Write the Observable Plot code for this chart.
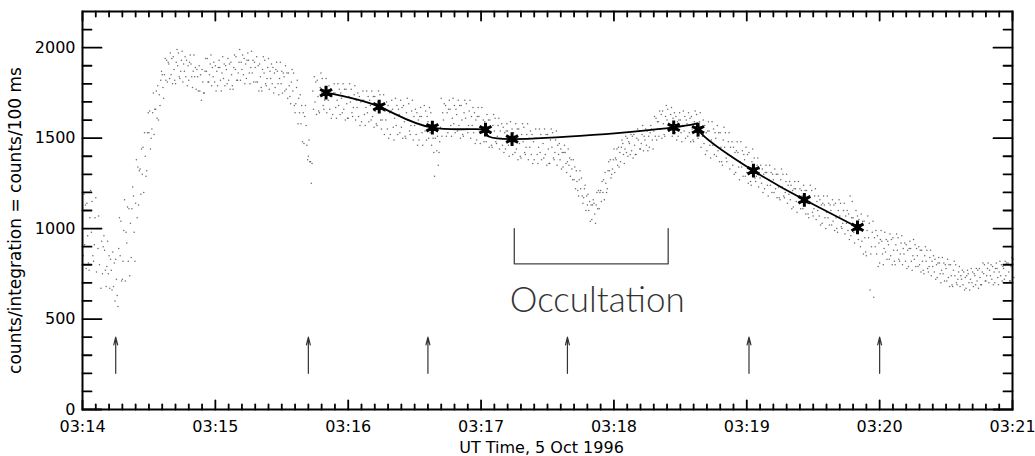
<!DOCTYPE html>
<html><head><meta charset="utf-8">
<script src="https://cdn.jsdelivr.net/npm/d3@7"></script>
<script src="https://cdn.jsdelivr.net/npm/@observablehq/plot@0.6"></script>
<style>body{margin:0;background:#fff}</style>
</head><body><div id="chart"></div>
<script>
// Count samples, three readings per second, seconds after 03:14:00 (one array per minute)
const counts0314 = [[1040,850,1190],[910,1130,780],[1140,960,810],[770,1060,1210],[980,1150,850],[820,910,1060],[1170,760,1000],[890,1070,800],[1000,670,930],[750,900,960],
[880,770,680],[790,930,750],[850,670,830],[770,660,870],[680,810,600],[830,720,630],[570,890,1060],[850,1040,710],[720,820,990],[1160,710,980],
[920,1120,820],[1110,740,1030],[840,1110,1230],[1180,980,820],[1140,1380,1060],[1340,1130,1320],[1330,1190,1440],[1300,1450,1200],[1530,1400,1290],[1320,1530,1640],
[1530,1650,1440],[1500,1550,1640],[1750,1520,1660],[1660,1760,1610],[1790,1600,1740],[1680,1820,1870],[1850,1780,1720],[1850,1940,1820],[1930,1810,1920],[1910,1830,1970],
[1850,1940,1800],[1950,1880,1820],[1800,1920,1990],[1900,1970,1840],[1830,1870,1930],[1980,1810,1910],[1870,1950,1840],[1930,1790,1900],[1820,1920,1960],[1910,1840,1780],
[1870,1960,1840],[1890,1770,1880],[1840,1760,1900],[1760,1850,1710],[1880,1810,1750],[1750,1870,1940],[1870,1940,1810],[1810,1850,1910],[1960,1790,1890],[1840,1920,1810]];
const counts0315 = [[1900,1760,1870],[1790,1890,1930],[1890,1820,1760],[1860,1950,1830],[1910,1790,1900],[1880,1800,1940],[1820,1910,1770],[1920,1850,1790],[1770,1890,1960],[1880,1950,1820],
[1820,1860,1920],[1990,1820,1920],[1880,1960,1850],[1940,1800,1910],[1830,1930,1970],[1930,1860,1800],[1890,1980,1860],[1930,1810,1920],[1890,1810,1950],[1810,1900,1760],
[1910,1840,1780],[1760,1880,1950],[1860,1930,1800],[1790,1830,1890],[1940,1770,1870],[1830,1910,1800],[1890,1750,1860],[1780,1880,1920],[1870,1800,1740],[1830,1920,1800],
[1870,1750,1860],[1840,1760,1900],[1770,1860,1720],[1860,1790,1730],[1690,1810,1880],[1760,1860,1680],[1640,1690,1780],[1820,1580,1720],[1640,1740,1580],[1680,1480,1640],
[1470,1620,1680],[1570,1460,1380],[1400,1490,1370],[1370,1250,1360],[1760,1660,1840],[1700,1810,1630],[1820,1730,1650],[1640,1780,1860],[1750,1830,1680],[1660,1710,1780],
[1830,1640,1750],[1710,1790,1660],[1770,1610,1730],[1630,1750,1800],[1750,1670,1610],[1710,1800,1680],[1770,1630,1750],[1720,1640,1800],[1660,1770,1600],[1770,1690,1610]];
const counts0316 = [[1610,1730,1800],[1700,1770,1640],[1620,1670,1740],[1790,1600,1710],[1670,1750,1620],[1730,1570,1700],[1590,1710,1760],[1710,1630,1570],[1670,1760,1640],[1730,1590,1710],
[1680,1600,1760],[1620,1730,1560],[1730,1650,1580],[1570,1700,1760],[1660,1740,1600],[1550,1600,1690],[1740,1520,1650],[1600,1700,1550],[1680,1500,1640],[1520,1650,1710],
[1660,1560,1490],[1610,1720,1570],[1680,1520,1660],[1630,1530,1710],[1560,1670,1500],[1680,1590,1510],[1500,1640,1720],[1600,1690,1540],[1520,1570,1650],[1710,1490,1620],
[1570,1660,1520],[1640,1460,1600],[1490,1620,1670],[1620,1530,1460],[1570,1680,1540],[1650,1490,1620],[1590,1500,1670],[1530,1640,1460],[1590,1500,1420],[1290,1500,1560],
[1430,1510,1350],[1420,1480,1560],[1720,1510,1640],[1600,1690,1550],[1680,1510,1640],[1530,1660,1710],[1660,1570,1510],[1610,1720,1580],[1680,1530,1660],[1630,1540,1710],
[1570,1680,1500],[1680,1600,1520],[1510,1640,1710],[1610,1690,1550],[1530,1570,1650],[1710,1500,1620],[1570,1670,1530],[1640,1470,1600],[1490,1620,1670],[1620,1530,1470]];
const counts0317 = [[1560,1670,1530],[1600,1480,1590],[1560,1480,1630],[1510,1600,1450],[1600,1530,1460],[1450,1570,1630],[1540,1610,1480],[1470,1510,1570],[1610,1440,1540],[1500,1580,1460],
[1560,1420,1530],[1440,1540,1580],[1540,1460,1400],[1500,1590,1470],[1550,1410,1530],[1510,1420,1580],[1440,1550,1380],[1550,1470,1400],[1390,1520,1580],[1480,1560,1420],
[1410,1450,1520],[1580,1380,1500],[1450,1540,1410],[1520,1360,1480],[1380,1500,1550],[1500,1410,1360],[1450,1550,1420],[1520,1380,1500],[1470,1390,1550],[1410,1520,1350],
[1520,1440,1360],[1360,1490,1550],[1450,1530,1390],[1380,1420,1490],[1540,1350,1460],[1410,1470,1380],[1440,1330,1420],[1340,1420,1460],[1420,1360,1310],[1370,1440,1350],
[1390,1290,1380],[1330,1270,1380],[1270,1340,1220],[1320,1260,1210],[1180,1270,1320],[1220,1280,1180],[1140,1170,1220],[1240,1100,1180],[1130,1190,1100],[1150,1040,1130],
[1050,1130,1160],[1140,1080,1030],[1130,1200,1110],[1210,1110,1200],[1210,1150,1260],[1200,1270,1160],[1310,1250,1200],[1220,1320,1370],[1320,1380,1280],[1300,1330,1380]];
const counts0318 = [[1440,1310,1390],[1380,1440,1350],[1450,1340,1420],[1370,1450,1490],[1470,1410,1360],[1440,1510,1420],[1500,1400,1480],[1470,1410,1520],[1430,1510,1390],[1520,1460,1410],
[1410,1500,1550],[1490,1540,1440],[1440,1470,1520],[1570,1430,1510],[1490,1550,1460],[1540,1430,1510],[1450,1530,1570],[1550,1490,1440],[1540,1620,1510],[1610,1490,1590],
[1590,1510,1650],[1550,1630,1500],[1650,1580,1520],[1510,1620,1680],[1600,1660,1550],[1540,1570,1630],[1670,1510,1610],[1570,1640,1530],[1620,1490,1590],[1510,1600,1640],
[1600,1530,1480],[1570,1650,1540],[1620,1500,1600],[1580,1510,1640],[1530,1610,1480],[1620,1550,1490],[1480,1590,1650],[1560,1630,1510],[1500,1530,1590],[1640,1450,1560],
[1510,1600,1470],[1570,1410,1530],[1430,1540,1590],[1540,1460,1390],[1490,1590,1460],[1550,1410,1530],[1500,1400,1570],[1430,1530,1370],[1530,1450,1370],[1350,1490,1560],
[1450,1530,1390],[1370,1410,1480],[1530,1330,1450],[1400,1480,1350],[1450,1300,1420],[1310,1430,1480],[1420,1340,1270],[1370,1480,1340],[1430,1290,1410],[1380,1290,1450]];
const counts0319 = [[1310,1410,1250],[1420,1330,1260],[1240,1370,1440],[1330,1390,1280],[1260,1290,1350],[1390,1230,1330],[1280,1350,1250],[1330,1200,1300],[1220,1310,1350],[1310,1240,1180],
[1270,1350,1240],[1310,1200,1300],[1270,1200,1330],[1220,1300,1170],[1300,1230,1170],[1160,1270,1330],[1230,1300,1180],[1170,1200,1260],[1300,1140,1240],[1190,1260,1160],
[1240,1110,1210],[1120,1220,1260],[1220,1150,1090],[1180,1260,1150],[1220,1110,1210],[1180,1110,1240],[1130,1210,1080],[1210,1140,1080],[1060,1180,1240],[1140,1210,1090],
[1070,1110,1180],[1220,1050,1150],[1100,1180,1070],[1160,1020,1130],[1030,1140,1180],[1130,1060,1000],[1090,1180,1060],[1140,1020,1130],[1100,1020,1160],[1040,1130,990],
[1140,1060,1000],[980,1100,1160],[1070,1140,1010],[1000,1030,1100],[1140,970,1070],[1030,1100,990],[1080,940,1180],[960,1060,1150],[1060,980,920],[1010,1100,990],
[1070,940,1050],[1000,900,1080],[930,1040,860],[1040,950,870],[850,990,1070],[950,1030,660],[860,900,980],[1040,620,950],[900,990,860],[960,790,920]];
const counts0320 = [[810,940,990],[930,860,800],[890,980,870],[940,830,930],[910,830,970],[850,940,800],[950,880,820],[800,910,970],[880,950,830],[820,860,920],
[960,800,890],[860,920,820],[910,780,880],[790,890,930],[890,820,770],[850,940,830],[910,790,890],[850,790,900],[800,880,760],[880,820,770],
[750,850,900],[820,880,780],[760,790,840],[880,740,820],[790,850,760],[830,720,800],[730,810,840],[810,750,700],[770,840,750],[810,710,800],
[780,710,830],[730,800,680],[800,740,690],[680,770,820],[740,800,700],[690,720,760],[790,680,740],[720,770,690],[760,660,730],[670,740,770],
[750,700,660],[720,780,700],[760,680,750],[740,690,780],[710,770,670],[780,730,690],[690,760,810],[750,800,710],[710,740,780],[810,700,770],
[740,800,720],[790,690,760],[700,780,810],[780,730,690],[760,820,740],[800,710,790],[780,720,820],[740,810,700],[810,760,710],[710,790,840]];
const counts0321 = [[770,830,730]];
// the three readings of each second are taken at these fractions of the second
const readingOffsets = [0, 0.33, 0.67];

// Fitted points (asterisks): seconds after 03:14:00 and counts
const fitTimes  = [110, 134, 158, 182, 194, 267, 278, 303, 326, 350];
const fitCounts = [1751, 1674, 1558, 1547, 1495, 1560, 1547, 1320, 1159, 1007];

// Arrow marks (seconds after 03:14:00), spanning counts 200 to 400
const arrowTimes = [15, 102, 156, 219, 301, 360];
const arrowFrom = 200, arrowTo = 400;

// Occultation bracket
const occStart = 195, occEnd = 264.5;
const bracketTop = 1000, bracketBottom = 805;
const occLabel = "Occultation";

// Axis ticks
const xTickSeconds = [0, 60, 120, 180, 240, 300, 360, 420];
const xTickLabels = ["03:14", "03:15", "03:16", "03:17", "03:18", "03:19", "03:20", "03:21"];
const yTicks = [0, 500, 1000, 1500, 2000];
const xMinor = d3.range(0, 421, 6).filter(t => t % 60 !== 0);
const yMinor = d3.range(100, 2200, 100).filter(v => v % 500 !== 0);

const yLabel = "counts/integration = counts/100 ms";
const xLabel = "UT Time, 5 Oct 1996";

const minuteArrays = [counts0314, counts0315, counts0316, counts0317, counts0318, counts0319, counts0320, counts0321];
const samples = [];
minuteArrays.forEach((rows, m) => rows.forEach((vals, i) => vals.forEach((v, k) => samples.push({t: m * 60 + i + readingOffsets[k], v}))));
const fits = fitTimes.map((t, i) => ({t, v: fitCounts[i]}));
const bracket = [
  {t: occStart, v: bracketTop}, {t: occStart, v: bracketBottom},
  {t: occEnd, v: bracketBottom}, {t: occEnd, v: bracketTop}
];

const tickShape = {draw(ctx, l) { ctx.moveTo(0, 0); ctx.lineTo(0, -l); }};
const tk = (data, o) => Plot.vector(data, {anchor: "start", shape: tickShape, stroke: "black", strokeWidth: 1.8, ...o});

const font = "'DejaVu Sans', Verdana, sans-serif";
const chart = Plot.plot({
  width: 1035, height: 456,
  marginLeft: 82, marginRight: 23, marginTop: 11, marginBottom: 47,
  style: {fontFamily: font, fontSize: "16px", color: "black", background: "white"},
  x: {domain: [0, 420]},
  y: {domain: [0, 2200]},
  marks: [
    Plot.dot(samples, {x: "t", y: "v", r: 0.75, fill: "#444", fillOpacity: 0.8}),
    Plot.line(fits, {x: "t", y: "v", curve: "natural", stroke: "black", strokeWidth: 1.8}),
    Plot.dot(fits, {x: "t", y: "v", symbol: "asterisk", r: 6.5, stroke: "black", strokeWidth: 3}),
    Plot.dot(fits, {x: "t", y: "v", symbol: "square", r: 3.6, fill: "black"}),
    Plot.arrow(arrowTimes, {x1: d => d, x2: d => d, y1: arrowFrom, y2: arrowTo, headLength: 10, headAngle: 28, stroke: "#333", strokeWidth: 1.2}),
    Plot.line(bracket, {x: "t", y: "v", stroke: "#444", strokeWidth: 1.3}),
    Plot.text([occLabel], {x: (occStart + occEnd) / 2, y: 541, dx: 6, text: d => d, lineAnchor: "bottom", fontSize: 35, fontWeight: 300, fill: "#333", fontFamily: "Lato, 'Open Sans', sans-serif"}),
    Plot.frame({stroke: "black", strokeWidth: 2}),
    tk(xTickSeconds, {x: d => d, y: 0, rotate: 0, length: 9}),
    tk(xMinor, {x: d => d, y: 0, rotate: 0, length: 5}),
    tk(xTickSeconds, {x: d => d, y: 2200, rotate: 180, length: 9}),
    tk(xMinor, {x: d => d, y: 2200, rotate: 180, length: 5}),
    tk(yTicks, {x: 0, y: d => d, rotate: 90, length: 19}),
    tk(yMinor, {x: 0, y: d => d, rotate: 90, length: 9}),
    tk(yTicks, {x: 420, y: d => d, rotate: -90, length: 19}),
    tk(yMinor, {x: 420, y: d => d, rotate: -90, length: 9}),
    Plot.axisX(xTickSeconds, {tickSize: 0, tickPadding: 11, tickFormat: d => xTickLabels[xTickSeconds.indexOf(d)], label: null, fontSize: 16}),
    Plot.axisY(yTicks, {tickSize: 0, tickPadding: 7, tickFormat: d => String(d), label: null, fontSize: 16}),
    Plot.text([yLabel], {frameAnchor: "left", rotate: -90, dx: -67, dy: 10, text: d => d, textAnchor: "middle", fontSize: 17}),
    Plot.text([xLabel], {frameAnchor: "bottom", dy: 43, dx: -6, text: d => d, fontSize: 16, lineAnchor: "bottom"})
  ]
});
document.getElementById("chart").appendChild(chart);
</script>
</body></html>
